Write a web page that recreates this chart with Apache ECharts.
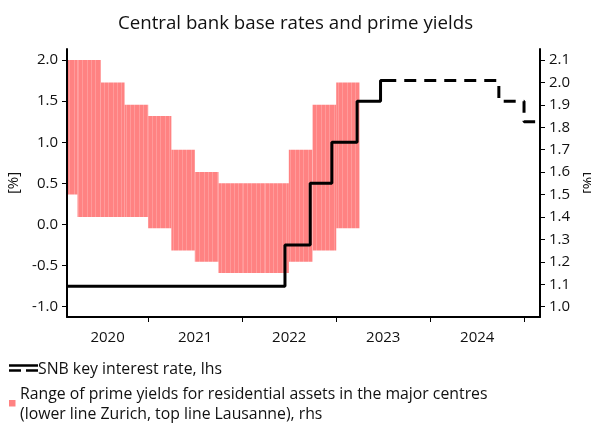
<!DOCTYPE html>
<html>
<head>
<meta charset="utf-8">
<script src="https://cdn.jsdelivr.net/npm/echarts@6/dist/echarts.min.js"></script>
<style>
html,body{margin:0;padding:0;background:#fff;}
#c{width:591px;height:423px;}
</style>
</head>
<body>
<div id="c"></div>
<script>
// ---- data ----
const axisStart = '2020-02-20';
const axisEnd = '2025-03-03';
const yearTicks = [2021, 2022, 2023, 2024, 2025];
const yearLabels = ['2020', '2021', '2022', '2023', '2024'];
const leftTicks = [-1.0, -0.5, 0.0, 0.5, 1.0, 1.5, 2.0];
const rightTicks = [1.0, 1.1, 1.2, 1.3, 1.4, 1.5, 1.6, 1.7, 1.8, 1.9, 2.0, 2.1];

// quarterly range of prime yields (rhs)
const rangeBounds = ['2020-01-01','2020-04-01','2020-07-01','2020-10-01','2021-01-01','2021-04-01','2021-07-01','2021-10-01','2022-01-01','2022-04-01','2022-07-01','2022-10-01','2023-01-01','2023-04-01'];
const zurichLow    = [1.50,1.40,1.40,1.40,1.35,1.25,1.20,1.15,1.15,1.15,1.20,1.25,1.35];
const lausanneHigh = [2.10,2.10,2.00,1.90,1.85,1.70,1.60,1.55,1.55,1.55,1.70,1.90,2.00];

// SNB key interest rate (lhs): change dates and new values
const snbDates  = ['2020-02-20','2022-06-16','2022-09-22','2022-12-15','2023-03-23','2023-06-22','2023-08-22'];
const snbValues = [-0.75, -0.25, 0.50, 1.00, 1.50, 1.75, 1.75];
const snbExpDates  = ['2023-08-22','2024-09-24','2024-12-31','2025-02-19'];
const snbExpValues = [1.75, 1.50, 1.25, 1.25];

// ---- helpers ----
function yf(s){
  const d = new Date(s + 'T00:00:00Z');
  const y = d.getUTCFullYear();
  const a = Date.UTC(y,0,1), b = Date.UTC(y+1,0,1);
  return y + (d.getTime() - a) / (b - a);
}
const xMin = yf(axisStart), xMax = yf(axisEnd);
const labelPos = yearLabels.map((s, i) => {
  const lo = Math.max(+s, xMin), hi = Math.min(+s + 1, xMax);
  return (lo + hi) / 2;
});

const rangeData = zurichLow.map((lo, i) => [yf(rangeBounds[i]), yf(rangeBounds[i+1]), lo, lausanneHigh[i]]);
const snbData = snbDates.map((d, i) => [yf(d), snbValues[i]]);
const snbExpData = snbExpDates.map((d, i) => [yf(d), snbExpValues[i]]);

// light vertical hatching texture for the range area
const PINK = '#FF8282';
const pat = document.createElement('canvas');
pat.width = 13; pat.height = 4;
(function(){
  const g = pat.getContext('2d');
  g.fillStyle = PINK; g.fillRect(0, 0, 13, 4);
  g.fillStyle = '#FF9A9A';
  [0, 4, 9].forEach(x => g.fillRect(x, 0, 1, 4));
})();

const FONT = '"Open Sans"';
const chart = echarts.init(document.getElementById('c'), null, {renderer: 'canvas'});

const option = {
  animation: false,
  backgroundColor: '#fff',
  title: {
    text: 'Central bank base rates and prime yields',
    left: 'center', top: 9,
    textStyle: {fontFamily: FONT, fontSize: 18.7, fontWeight: 'normal', color: '#111'}
  },
  grid: {left: 67, right: 51, top: 49, bottom: 106, containLabel: false, outerBoundsMode: 'none'},
  xAxis: {
    type: 'value', min: xMin, max: xMax,
    axisLine: {show: true, onZero: false, lineStyle: {color: '#000', width: 2}},
    axisTick: {show: true, inside: false, length: 5, customValues: yearTicks, lineStyle: {color: '#000', width: 1}},
    axisLabel: {
      customValues: labelPos,
      formatter: v => String(Math.floor(v)),
      fontFamily: FONT, fontSize: 15, color: '#111', margin: 13
    },
    splitLine: {show: false}
  },
  yAxis: [
    {
      type: 'value', position: 'left', min: -1.125, max: 2.134,
      name: '[%]', nameLocation: 'middle', nameRotate: 90, nameGap: 34,
      nameTextStyle: {fontFamily: FONT, fontSize: 15, color: '#111'},
      axisLine: {show: true, lineStyle: {color: '#000', width: 2}},
      axisTick: {show: true, length: 5, customValues: leftTicks, lineStyle: {color: '#000', width: 1}},
      axisLabel: {customValues: leftTicks, formatter: v => v.toFixed(1), fontFamily: FONT, fontSize: 15, color: '#111', margin: 9},
      splitLine: {show: false}
    },
    {
      type: 'value', position: 'right', min: 0.954, max: 2.149,
      name: '[%]', nameLocation: 'middle', nameRotate: 90, nameGap: 35,
      nameTextStyle: {fontFamily: FONT, fontSize: 15, color: '#111'},
      axisLine: {show: true, lineStyle: {color: '#000', width: 2}},
      axisTick: {show: true, length: 5, customValues: rightTicks, lineStyle: {color: '#000', width: 1}},
      axisLabel: {customValues: rightTicks, formatter: v => v.toFixed(1), fontFamily: FONT, fontSize: 15, color: '#111', margin: 9},
      splitLine: {show: false}
    }
  ],
  series: [
    {
      type: 'custom', name: 'range', yAxisIndex: 1, clip: true,
      data: rangeData,
      renderItem: function(params, api){
        const p1 = api.coord([api.value(0), api.value(3)]);
        const p2 = api.coord([api.value(1), api.value(2)]);
        const cs = params.coordSys;
        const x1 = Math.max(p1[0], cs.x + 1);
        return {
          type: 'rect',
          shape: {x: x1, y: p1[1], width: p2[0] - x1, height: p2[1] - p1[1]},
          style: {fill: {image: pat, repeat: 'repeat'}, stroke: null}
        };
      },
      z: 1
    },
    {
      type: 'line', name: 'snb', yAxisIndex: 0, step: 'end', data: snbData,
      showSymbol: false, symbol: 'none',
      lineStyle: {color: '#000', width: 3}, z: 3
    },
    {
      type: 'line', name: 'snbExp', yAxisIndex: 0, step: 'end', data: snbExpData,
      showSymbol: false, symbol: 'none',
      lineStyle: {color: '#000', width: 3, type: [12, 8], dashOffset: -8}, z: 3
    }
  ],
  graphic: [
    {type: 'line', shape: {x1: 9, y1: 365.5, x2: 38, y2: 365.5}, style: {stroke: '#000', lineWidth: 2.5}},
    {type: 'line', shape: {x1: 9, y1: 370.5, x2: 21, y2: 370.5}, style: {stroke: '#000', lineWidth: 2.5}},
    {type: 'line', shape: {x1: 26, y1: 370.5, x2: 38, y2: 370.5}, style: {stroke: '#000', lineWidth: 2.5}},
    {type: 'text', x: 38, y: 369, style: {text: 'SNB key interest rate, lhs', fontFamily: FONT, fontSize: 15.8, fill: '#111', verticalAlign: 'middle'}},
    {type: 'rect', shape: {x: 9, y: 400, width: 6.5, height: 6.5}, style: {fill: PINK}},
    {type: 'text', x: 20, y: 394, style: {text: 'Range of prime yields for residential assets in the major centres', fontFamily: FONT, fontSize: 15.8, fill: '#111', verticalAlign: 'middle'}},
    {type: 'text', x: 20, y: 414, style: {text: '(lower line Zurich, top line Lausanne), rhs', fontFamily: FONT, fontSize: 15.8, fill: '#111', verticalAlign: 'middle'}}
  ]
};
chart.setOption(option);
</script>
</body>
</html>
